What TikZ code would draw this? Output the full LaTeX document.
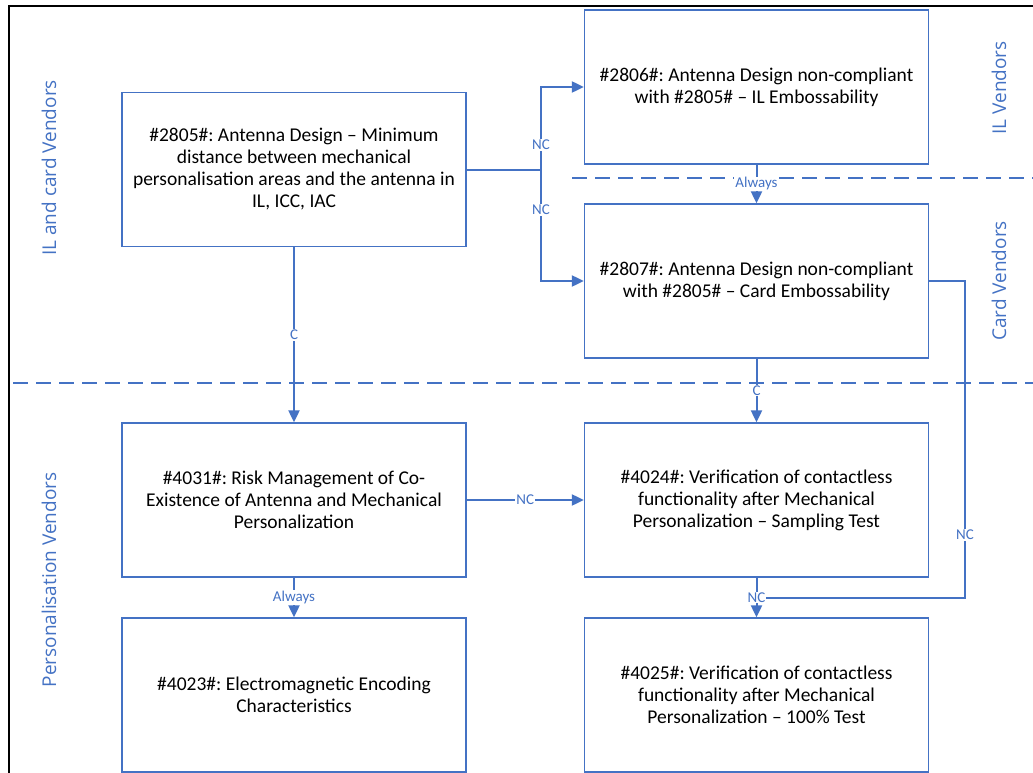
\documentclass[tikz,border=0pt]{standalone}
\usepackage{fontspec}
\setmainfont{Carlito}
\newfontfamily\lanefont{Open Sans}
\usetikzlibrary{arrows.meta}
\definecolor{ablue}{HTML}{4472C4}
\frenchspacing
\begin{document}
\begin{tikzpicture}[x=1pt,y=-1pt,
 box/.style={draw=ablue, line width=1.3pt, fill=white, minimum width=344pt, minimum height=154pt, inner sep=0pt, align=center, font=\fontsize{19.5}{22}\selectfont\frenchspacing, text=black},
 conn/.style={draw=ablue, line width=2pt},
 arr/.style={conn, -{Triangle[length=12pt,width=11pt]}},
 lbl/.style={fill=white, text=ablue, inner sep=1pt, font=\fontsize{15}{15}\selectfont},
 lane/.style={text=ablue, rotate=90, anchor=base, font=\lanefont\fontsize{19}{19}\selectfont},
 sep/.style={draw=ablue, line width=2.2pt, dash pattern=on 15pt off 8pt}]
\useasboundingbox (0,0) rectangle (1033,773);
\fill[white] (0,0) rectangle (1033,773);
% frame
\draw[black, line width=2.5pt] (9,775) -- (9,6) -- (1035,6);
% lane separators
\draw[sep] (572,178) -- (1035,178);
\draw[sep] (13,383) -- (1035,383);
% lane labels
\node[lane] (laneA) at (56,168) {IL and card Vendors};
\node[lane] (laneB) at (1006,88) {IL Vendors};
\node[lane] (laneC) at (1006,281) {Card Vendors};
\node[lane] (laneD) at (56,580) {Personalisation Vendors};
% boxes
\node[box] (b2805) at (294,169.5) {\#2805\#: Antenna Design -- Minimum\\distance between mechanical\\personalisation areas and the antenna in\\IL, ICC, IAC};
\node[box] (b2806) at (756.5,87) {\#2806\#: Antenna Design non-compliant\\with \#2805\# -- IL Embossability};
\node[box] (b2807) at (756.5,281) {\#2807\#: Antenna Design non-compliant\\with \#2805\# -- Card Embossability};
\node[box] (b4031) at (294,500) {\#4031\#: Risk Management of Co-\\Existence of Antenna and Mechanical\\Personalization};
\node[box] (b4024) at (756.5,500) {\#4024\#: Verification of contactless\\functionality after Mechanical\\Personalization -- Sampling Test};
\node[box] (b4023) at (294,695) {\#4023\#: Electromagnetic Encoding\\Characteristics};
\node[box] (b4025) at (756.5,695) {\#4025\#: Verification of contactless\\functionality after Mechanical\\Personalization -- 100\% Test};
% connectors
\coordinate (split) at (541,169.5);
\coordinate (turn) at (965,598);
\draw[conn] (b2805.east) -- (split);
\draw[arr] (split) |- node[lbl, pos=0.15] {NC} (b2806.west);
\draw[arr] (split) |- node[lbl, pos=0.18] {NC} (b2807.west);
\draw[arr] (b2806.south) -- node[lbl] {Always} (b2807.north);
\draw[arr] (b2807.south) -- node[lbl] {C} (b4024.north);
\draw[arr] (b2805.south) -- node[lbl] {C} (b4031.north);
\draw[arr] (b4031.east) -- node[lbl] {NC} (b4024.west);
\draw[arr] (b4031.south) -- node[lbl] {Always} (b4023.north);
\draw[conn] (b2807.east) -| node[lbl, pos=0.9] {NC} (turn) -- (b4024.south |- turn);
\draw[arr] (b4024.south) -- node[lbl] (ncl) {NC} (b4025.north);
\end{tikzpicture}
\end{document}
